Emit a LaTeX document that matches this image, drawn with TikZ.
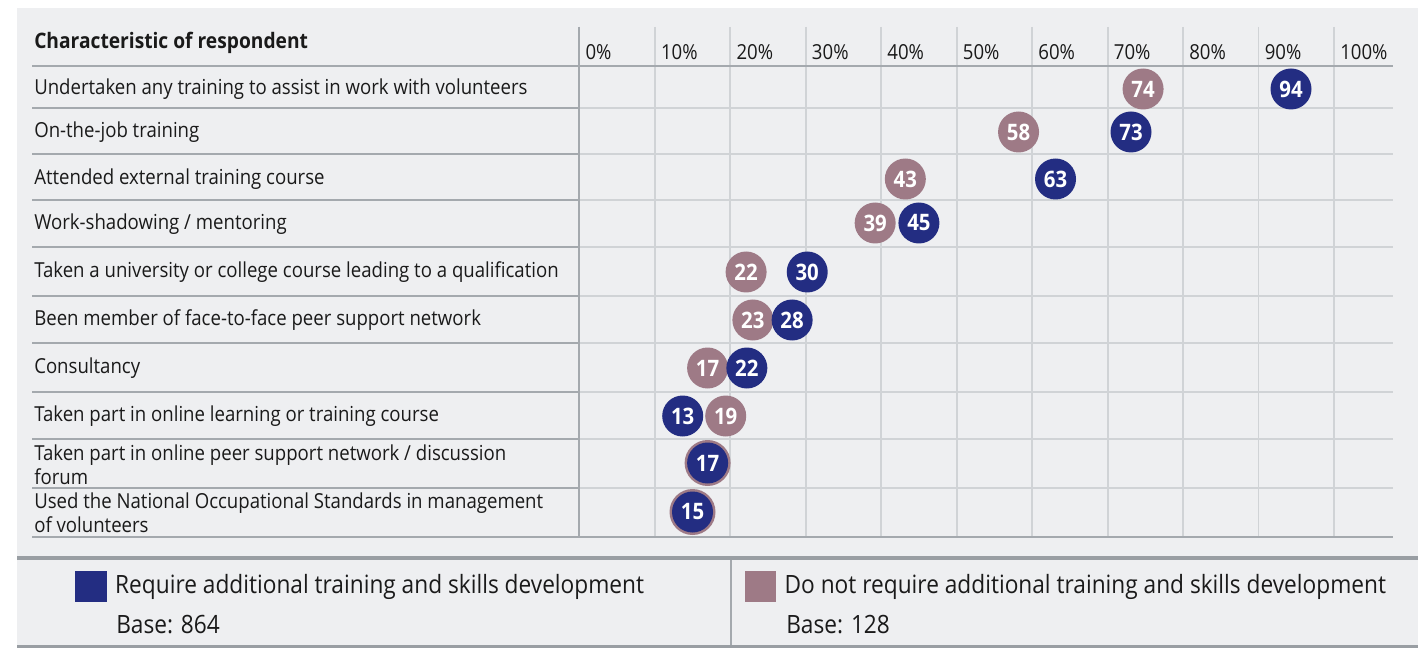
\documentclass[tikz,border=0pt]{standalone}
\usepackage{fontspec}
\setmainfont{Open Sans}[FakeStretch=0.9]
\usetikzlibrary{positioning}
\definecolor{panel}{HTML}{EEEFF1}
\definecolor{gridc}{HTML}{D0D3D6}
\definecolor{rulec}{HTML}{A4A9AE}
\definecolor{thickc}{HTML}{999EA3}
\definecolor{navy}{HTML}{232D82}
\definecolor{mauve}{HTML}{9E7A86}
\definecolor{ink}{HTML}{1A1A1A}
\tikzset{
  bubble/.style={circle,inner sep=0pt,minimum size=30.75pt,text=white,font=\fontsize{17}{17}\selectfont\bfseries},
  req/.style={bubble,fill=navy},
  noreq/.style={bubble,fill=mauve},
  rowtext/.style={anchor=west,align=left,inner sep=0pt,text=ink,font=\fontsize{15.5}{18}\selectfont},
  keytext/.style={anchor=west,align=left,inner sep=0pt,text=ink,font=\fontsize{18.9}{21}\selectfont}
}

\begin{document}
\begin{tikzpicture}[x=0.75pt,y=-0.75pt]
  \def\xo{579.3}  % x of 0%
  \def\xs{7.547}  % px per percent
  \useasboundingbox (0,0) rectangle (1426,648);
  \fill[panel] (17,8) rectangle (1418,648);
  %
  \foreach \y in {108,154,200,247,296,343,392,439,488} {%
    \draw[rulec,line width=1pt] (32,\y) -- (\xo,\y);
    \draw[gridc,line width=1.4pt] (\xo,\y) -- (1393,\y);
  }
  \foreach \p in {0,10,...,100} {%
    \draw[gridc,line width=1.4pt] (\xo+\xs*\p,27) -- (\xo+\xs*\p,537);
    \node[rowtext] (tick\p) at (\xo+\xs*\p+6,52) {\p\%};
  }
  \draw[rulec,line width=1.4pt] (\xo,27) -- (\xo,537);
  \draw[rulec,line width=1.6pt] (32,66) -- (1393,66);
  \draw[rulec,line width=1.6pt] (32,537) -- (1393,537);
  %
  \node[rowtext,font=\fontsize{16}{18}\selectfont\bfseries] (head) at (34,43) {Characteristic of respondent};
  \foreach \n/\y/\lab in {1/89/{Undertaken any training to assist in work with volunteers},
      2/132/{On-the-job training},
      3/179/{Attended external training course},
      4/224/{Work-shadowing / mentoring},
      5/272/{Taken a university or college course leading to a qualification},
      6/320/{Been member of face-to-face peer support network},
      7/368/{Consultancy},
      8/416/{Taken part in online learning or training course},
      9/465/{Taken part in online peer support network / discussion\\forum},
      10/513/{Used the National Occupational Standards in management\\of volunteers}} {%
    \node[rowtext] (lab\n) at (34,\y) {\lab};
  }
  %
  \foreach \n/\y/\m/\mx/\b/\bx in {1/89/74/74.7/94/94.3,
      2/132/58/58.2/73/73.1,
      3/179/43/43.2/63/63.1,
      4/223/39/39.2/45/45,
      5/272/22/22.1/30/30.2,
      6/320/23/23/28/28.2,
      7/368/17/17/22/22.2,
      8/416/19/19.4/13/13.7} {%
    \node[noreq] (nreq\n) at (\xo+\xs*\mx,\y) {\m};
    \node[req] (req\n) at (\xo+\xs*\bx,\y) {\b};
  }
  \node[noreq,minimum size=34.5pt] (nreq9) at (\xo+\xs*17,463) {17};
  \node[req] (req9) at (nreq9) {17};
  \node[noreq,minimum size=34.5pt] (nreq10) at (\xo+\xs*15,512) {15};
  \node[req] (req10) at (nreq10) {15};
  %
  \draw[thickc,line width=2.8pt] (17,558) -- (1418,558);
  \draw[thickc,line width=2.4pt] (17,647) -- (1418,647);
  \draw[rulec,line width=1pt] (731,560) -- (731,645);
  \node[fill=navy,inner sep=0pt,minimum size=23.5pt] (keyreq) at (91,586.5) {};
  \node[keytext,right=6pt of keyreq] (keyreqtxt) {Require additional training and skills development};
  \node[keytext] (keyreqbase) at (116,625) {Base: 864};
  \node[fill=mauve,inner sep=0pt,minimum size=23.5pt] (keynreq) at (760.5,586.5) {};
  \node[keytext,right=6pt of keynreq] (keynreqtxt) {Do not require additional training and skills development};
  \node[keytext] (keynreqbase) at (786,625) {Base: 128};
\end{tikzpicture}
\end{document}
